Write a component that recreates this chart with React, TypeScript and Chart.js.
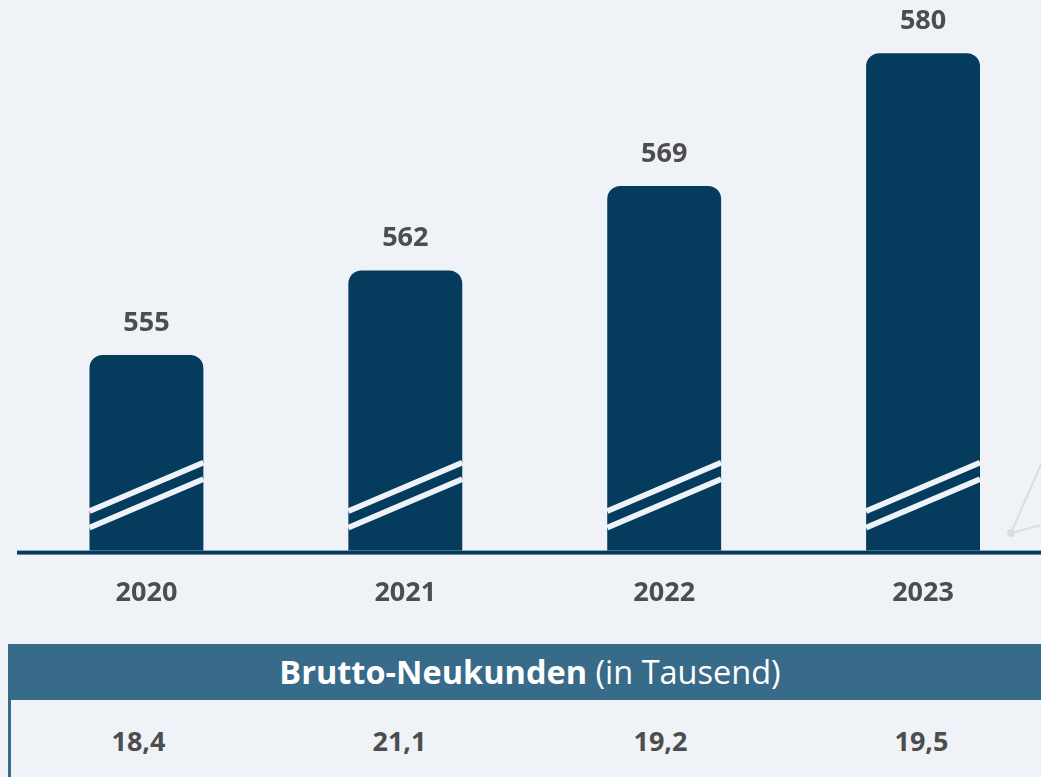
import React, { useEffect, useRef } from "react";
import { Chart, registerables } from "chart.js";

Chart.register(...registerables);

const years: string[] = ["2020", "2021", "2022", "2023"];
const customers: number[] = [555, 562, 569, 580];
const grossNewCustomers: number[] = [18.4, 21.1, 19.2, 19.5];
const tableTitleBold = "Brutto-Neukunden";
const tableTitleRest = " (in Tausend)";

const BG = "#eff3f7";
const NAVY = "#053b5c";
const HEADER = "#386a89";
const TEXT = "#4d4d4d";
const FONT = "'Open Sans', 'DejaVu Sans', sans-serif";
const BAR_PCT = 0.44;

const fmt = (v: number) =>
  v.toLocaleString("de-DE", { minimumFractionDigits: 1, maximumFractionDigits: 1 });

const barDecor = {
  id: "barDecor",
  afterDraw(chart: any) {
    const ctx: CanvasRenderingContext2D = chart.ctx;
    const area = chart.chartArea;
    const xs = chart.scales.x;
    const ys = chart.scales.y;

    // axis line
    ctx.save();
    ctx.fillStyle = NAVY;
    ctx.fillRect(area.left, area.bottom, chart.width - area.left, 4);
    ctx.restore();

    const catW = xs.getPixelForValue(1) - xs.getPixelForValue(0);
    const w = catW * BAR_PCT;
    const base = area.bottom;
    const slope = (88 - 39.5) / 114;
    const offsets = [39.5, 23];

    for (let i = 0; i < customers.length; i++) {
      const x: number = xs.getPixelForValue(i);
      const top: number = ys.getPixelForValue(customers[i]);
      const L = x - w / 2;
      const R = x + w / 2;

      // axis break marks
      ctx.save();
      ctx.strokeStyle = BG;
      ctx.lineWidth = 5.5;
      for (let k = 0; k < offsets.length; k++) {
        const off = offsets[k];
        ctx.beginPath();
        ctx.moveTo(L, base - off);
        ctx.lineTo(R, base - off - w * slope);
        ctx.stroke();
      }
      ctx.restore();

      // value label
      ctx.save();
      ctx.fillStyle = TEXT;
      ctx.font = `bold 27px ${FONT}`;
      ctx.textAlign = "center";
      ctx.textBaseline = "alphabetic";
      ctx.fillText(String(customers[i]), x, top - 24);
      ctx.restore();
    }

    // faint decorative network lines at the right edge
    ctx.save();
    ctx.strokeStyle = "#d9dee4";
    ctx.fillStyle = "#d9dee4";
    ctx.lineWidth = 2;
    ctx.beginPath();
    ctx.moveTo(1011, 533);
    ctx.lineTo(1045, 455);
    ctx.moveTo(1011, 533);
    ctx.lineTo(1045, 524);
    ctx.stroke();
    ctx.beginPath();
    ctx.arc(1011, 533, 4, 0, Math.PI * 2);
    ctx.fill();
    ctx.restore();
  },
};

export default function App() {
  const ref = useRef<HTMLCanvasElement | null>(null);

  useEffect(() => {
    if (!ref.current) return;
    const chart = new Chart(ref.current, {
      type: "bar",
      data: {
        labels: years,
        datasets: [
          {
            data: customers,
            backgroundColor: NAVY,
            borderRadius: 13,
            borderSkipped: "start",
            categoryPercentage: 1,
            barPercentage: BAR_PCT,
          },
        ],
      },
      options: {
        responsive: false,
        animation: false,
        devicePixelRatio: 1,
        layout: { padding: { left: 17, right: 7.5, top: 0, bottom: 0 } },
        plugins: {
          legend: { display: false },
          tooltip: { enabled: false },
        },
        scales: {
          x: {
            grid: { display: false, drawTicks: false },
            border: { display: false },
            ticks: {
              color: TEXT,
              font: { family: FONT, size: 27, weight: "bold" },
              padding: 27,
            },
          },
          y: {
            display: false,
            min: 538.8,
            max: 584.4,
          },
        },
      },
      plugins: [barDecor],
    });
    return () => chart.destroy();
  }, []);

  return (
    <div
      style={{
        position: "fixed",
        left: 0,
        top: 0,
        width: 1041,
        height: 777,
        overflow: "hidden",
        background: BG,
      }}
    >
      <canvas
        ref={ref}
        width={1060}
        height={637}
        style={{ position: "absolute", left: 0, top: 0, width: 1060, height: 637 }}
      />
      <div
        style={{
          position: "absolute",
          left: 8,
          top: 644,
          width: 1044,
          height: 56,
          background: HEADER,
          color: "#ffffff",
          fontFamily: FONT,
          fontSize: 32.5,
          lineHeight: "56px",
          textAlign: "center",
          whiteSpace: "nowrap",
        }}
      >
        <span style={{ fontWeight: 700 }}>{tableTitleBold}</span>
        <span style={{ fontWeight: 400 }}>{tableTitleRest}</span>
      </div>
      <div
        style={{
          position: "absolute",
          left: 8,
          top: 700,
          width: 1044,
          height: 82,
          display: "grid",
          gridTemplateColumns: "repeat(4, 1fr)",
          fontFamily: FONT,
          fontWeight: 700,
          fontSize: 27,
          color: TEXT,
        }}
      >
        {grossNewCustomers.map((v, i) => (
          <div
            key={i}
            style={{
              display: "flex",
              alignItems: "center",
              justifyContent: "center",
              height: 80,
            }}
          >
            {fmt(v)}
          </div>
        ))}
      </div>
      <div
        style={{
          position: "absolute",
          left: 8,
          top: 700,
          width: 3,
          height: 82,
          background: HEADER,
        }}
      />
    </div>
  );
}
